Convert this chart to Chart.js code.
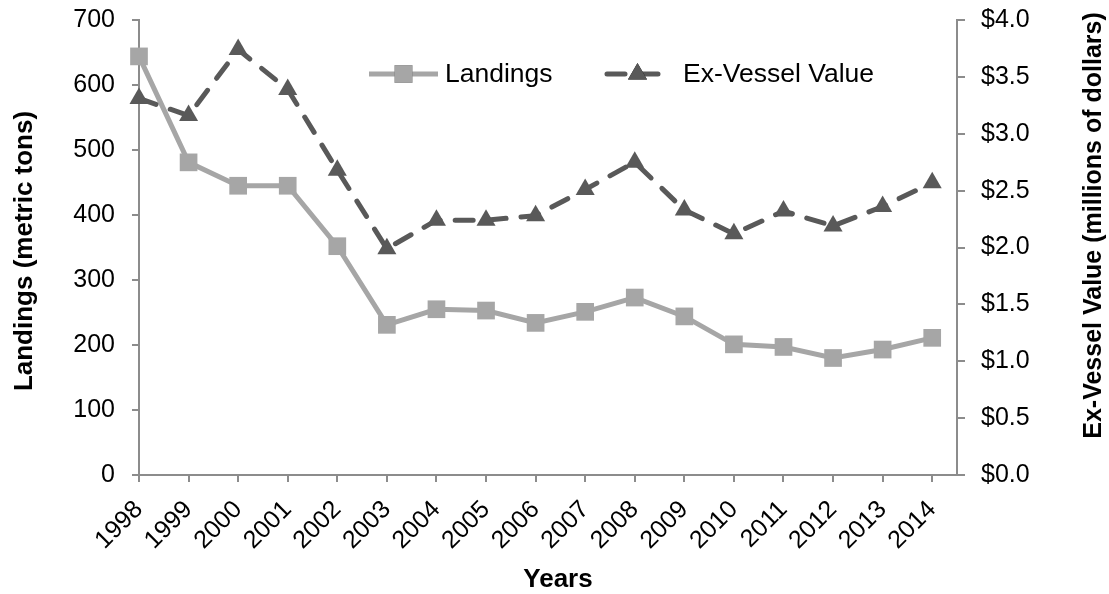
<!DOCTYPE html>
<html>
<head>
<meta charset="utf-8">
<script src="https://cdn.jsdelivr.net/npm/chart.js@4"></script>
<style>
  html, body { margin: 0; padding: 0; background: #fff; }
  #wrap { width: 1109px; height: 594px; }
</style>
</head>
<body>
<div id="wrap"><canvas id="landings-chart" width="1109" height="594"></canvas></div>
<script>
const years = ['1998','1999','2000','2001','2002','2003','2004','2005','2006','2007','2008','2009','2010','2011','2012','2013','2014'];
const landings = [644, 481, 445, 445, 352, 231, 255, 253, 234, 251, 273, 244, 201, 197, 180, 193, 211];
const exVesselValue = [3.31, 3.16, 3.74, 3.39, 2.68, 1.99, 2.24, 2.24, 2.28, 2.51, 2.75, 2.33, 2.12, 2.32, 2.19, 2.36, 2.57];
const landingsTicks = [0, 100, 200, 300, 400, 500, 600, 700];
const valueTicks = [0, 0.5, 1, 1.5, 2, 2.5, 3, 3.5, 4];

const FONT = '"Liberation Sans", Arial, sans-serif';
Chart.defaults.font.family = FONT;
Chart.defaults.font.size = 25;
Chart.defaults.color = '#000';

const axisGray = '#8c8c8c';
const lightGray = '#a6a6a6';
const darkGray = '#595959';

// legend drawn as line + marker, like the original
const lineLegend = {
  id: 'lineLegend',
  afterDatasetsDraw(chart) {
    const ctx = chart.ctx;
    const items = [
      { ds: chart.data.datasets[0], x1: 369, x2: 438, text: 445 },
      { ds: chart.data.datasets[1], x1: 607, x2: 668, text: 683 }
    ];
    const y = 74;
    ctx.save();
    items.forEach((it) => {
      ctx.strokeStyle = it.ds.borderColor;
      ctx.lineWidth = it.ds.borderWidth;
      ctx.lineCap = it.ds.borderCapStyle || 'butt';
      ctx.setLineDash(it.ds.borderDash || []);
      ctx.beginPath();
      ctx.moveTo(it.x1, y);
      ctx.lineTo(it.x2, y);
      ctx.stroke();
      ctx.setLineDash([]);
      Chart.helpers.drawPoint(ctx, {
        pointStyle: it.ds.pointStyle,
        radius: it.ds.pointRadius,
        borderWidth: 0
      }, (it.x1 + it.x2) / 2, y);
      ctx.fillStyle = it.ds.pointBackgroundColor;
      ctx.fill();
      ctx.fillStyle = '#000';
      ctx.font = '26.5px ' + FONT;
      ctx.textBaseline = 'middle';
      ctx.fillText(it.ds.label, it.text, y + 1);
    });
    ctx.restore();
  }
};

// axis titles placed where the original has them
const axisTitles = {
  id: 'axisTitles',
  afterDraw(chart) {
    const ctx = chart.ctx;
    ctx.save();
    ctx.fillStyle = '#000';
    ctx.font = 'bold 26px ' + FONT;
    ctx.textAlign = 'center';
    ctx.textBaseline = 'alphabetic';
    ctx.fillText('Years', 558, 587);

    ctx.save();
    ctx.translate(32, 251);
    ctx.rotate(-Math.PI / 2);
    ctx.fillText('Landings (metric tons)', 0, 0);
    ctx.restore();

    ctx.save();
    ctx.font = 'bold 25px ' + FONT;
    ctx.translate(1101, 225.5);
    ctx.rotate(-Math.PI / 2);
    ctx.fillText('Ex-Vessel Value (millions of dollars)', 0, 0);
    ctx.restore();
    ctx.restore();
  }
};

function fixY(width) {
  return (scale) => {
    scale.width = width;
    scale.paddingTop = 0;
    scale.paddingBottom = 0;
  };
}

new Chart(document.getElementById('landings-chart'), {
  type: 'line',
  data: {
    datasets: [
      {
        label: 'Landings',
        data: landings.map((v, i) => ({ x: i, y: v })),
        yAxisID: 'yLeft',
        borderColor: lightGray,
        backgroundColor: lightGray,
        borderWidth: 5,
        pointStyle: 'rect',
        pointRadius: 12.5,
        pointBorderWidth: 0,
        pointBackgroundColor: lightGray,
        tension: 0,
        clip: false,
        order: 1
      },
      {
        label: 'Ex-Vessel Value',
        data: exVesselValue.map((v, i) => ({ x: i, y: v })),
        yAxisID: 'yRight',
        borderColor: darkGray,
        backgroundColor: darkGray,
        borderWidth: 5,
        borderDash: [18, 15],
        borderCapStyle: 'round',
        pointStyle: 'triangle',
        pointRadius: 11,
        pointBorderWidth: 0,
        pointBackgroundColor: darkGray,
        tension: 0,
        clip: false,
        order: 0
      }
    ]
  },
  options: {
    responsive: false,
    animation: false,
    layout: { padding: { top: 20, left: 0, right: 0, bottom: 0 } },
    plugins: {
      legend: { display: false },
      tooltip: { enabled: false }
    },
    scales: {
      x: {
        type: 'linear',
        min: 0,
        max: 16.5,
        afterFit(scale) {
          scale.height = 119;
          scale.paddingLeft = 0;
          scale.paddingRight = 0;
        },
        ticks: {
          stepSize: 1,
          autoSkip: false,
          includeBounds: false,
          maxRotation: 45,
          minRotation: 45,
          padding: 13,
          callback: (v) => years[v] ?? ''
        },
        grid: { drawOnChartArea: false, color: axisGray, lineWidth: 2, tickLength: 7 },
        border: { color: axisGray, width: 2 }
      },
      yLeft: {
        position: 'left',
        min: 0,
        max: 700,
        afterFit: fixY(139),
        afterBuildTicks(scale) { scale.ticks = landingsTicks.map((v) => ({ value: v })); },
        ticks: { padding: 17 },
        grid: { drawOnChartArea: false, color: axisGray, lineWidth: 2, tickLength: 7 },
        border: { color: axisGray, width: 2 }
      },
      yRight: {
        position: 'right',
        min: 0,
        max: 4,
        afterFit: fixY(152),
        afterBuildTicks(scale) { scale.ticks = valueTicks.map((v) => ({ value: v })); },
        ticks: { padding: 16, callback: (v) => '$' + Number(v).toFixed(1) },
        grid: { drawOnChartArea: false, color: axisGray, lineWidth: 2, tickLength: 8 },
        border: { color: axisGray, width: 2 }
      }
    }
  },
  plugins: [lineLegend, axisTitles]
});
</script>
</body>
</html>
